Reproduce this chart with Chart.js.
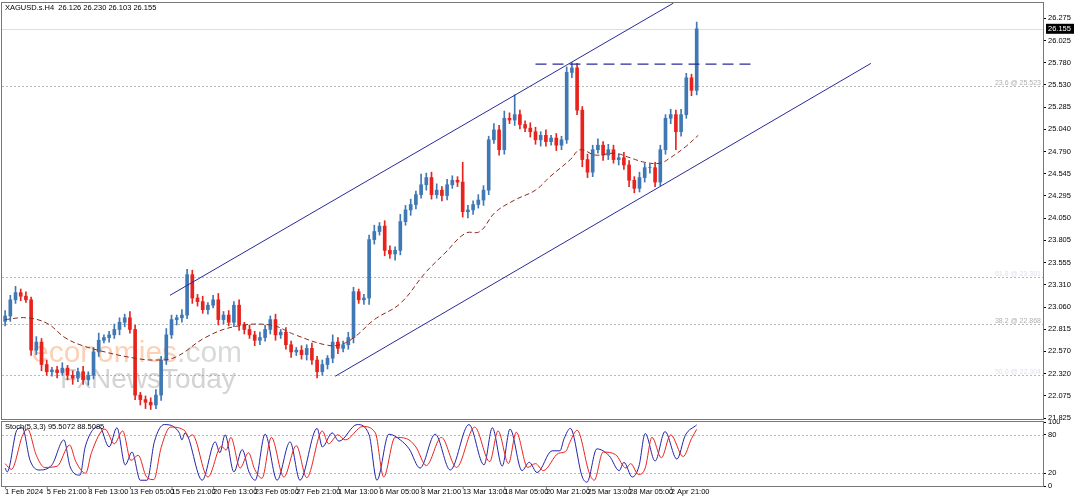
<!DOCTYPE html>
<html><head><meta charset="utf-8">
<script src="https://cdn.jsdelivr.net/npm/chart.js@4"></script>
<style>
html,body{margin:0;padding:0;background:#fff;width:1074px;height:500px;overflow:hidden}
#c1{position:absolute;left:0;top:0}
#c2{position:absolute;left:0;top:420px}
</style></head><body>
<canvas id="c1" width="1074" height="420"></canvas>
<canvas id="c2" width="1074" height="80"></canvas>
<script>
const title = "XAGUSD.s.H4  26.126 26.230 26.103 26.155";
const closes = [22.96,23.14,23.22,23.18,23.14,22.58,22.67,22.42,22.34,22.36,
22.33,22.38,22.30,22.27,22.34,22.25,22.30,22.56,22.69,22.72,
22.75,22.81,22.89,22.94,22.81,22.08,22.03,22.00,21.97,22.08,
22.47,22.75,22.92,22.94,22.97,23.42,23.16,23.12,23.03,23.08,
23.14,22.92,22.97,22.89,23.08,22.86,22.81,22.75,22.69,22.72,
22.81,22.92,22.75,22.78,22.64,22.56,22.58,22.53,22.60,22.47,
22.34,22.42,22.49,22.67,22.60,22.64,22.72,23.23,23.14,23.16,
23.81,23.90,23.96,23.69,23.65,23.69,24.01,24.14,24.20,24.31,
24.42,24.50,24.31,24.36,24.30,24.42,24.47,24.45,24.12,24.14,
24.20,24.25,24.36,24.92,25.03,24.81,25.16,25.14,25.20,25.09,
25.05,25.01,24.92,24.97,24.90,24.94,24.86,24.92,25.67,25.72,
25.25,24.70,24.56,24.81,24.86,24.75,24.81,24.70,24.72,24.64,
24.47,24.38,24.50,24.61,24.61,24.45,24.81,25.16,25.20,25.01,
25.20,25.61,25.47,26.155];
const firstOpen = 22.90;
const wickUp = [.06,.05,.07,.04,.05,.03,.06,.04,.05,.03,.04,.06,.03,.05,.04,.06,.04,.05,.08,.03,
.04,.06,.05,.04,.07,.05,.03,.04,.05,.06,.04,.07,.05,.03,.06,.06,.05,.04,.06,.03,
.05,.07,.04,.05,.04,.06,.03,.05,.04,.06,.05,.04,.06,.03,.05,.04,.03,.05,.04,.06,
.04,.05,.03,.08,.05,.04,.06,.05,.03,.04,.05,.07,.04,.06,.05,.04,.08,.05,.06,.04,
.12,.05,.06,.07,.04,.06,.05,.04,.22,.05,.04,.06,.05,.04,.07,.05,.08,.06,.22,.05,
.04,.06,.05,.04,.06,.03,.05,.04,.06,.06,.05,.04,.06,.05,.07,.04,.06,.05,.04,.06,
.05,.04,.06,.05,.04,.06,.05,.04,.06,.05,.06,.05,.04,.075];
const wickDn = [.05,.06,.04,.05,.03,.06,.05,.07,.04,.05,.06,.03,.05,.07,.04,.05,.06,.04,.05,.03,
.05,.04,.06,.05,.04,.05,.06,.07,.05,.04,.06,.05,.04,.06,.05,.04,.06,.05,.04,.05,
.03,.06,.05,.04,.05,.06,.05,.04,.06,.05,.04,.05,.06,.04,.05,.06,.04,.05,.06,.05,
.07,.04,.05,.05,.06,.04,.05,.06,.04,.05,.07,.05,.04,.06,.05,.07,.05,.04,.06,.05,
.04,.06,.05,.04,.06,.05,.04,.05,.06,.07,.05,.04,.06,.05,.04,.06,.05,.04,.06,.05,
.04,.06,.05,.07,.05,.04,.06,.05,.04,.06,.05,.08,.06,.05,.04,.06,.05,.04,.06,.05,
.07,.05,.04,.05,.06,.05,.04,.05,.06,.20,.05,.04,.06,.05];
const maX = [0,4,8,11.5,14.4,19.2,25,28.8,32.7,38.5,44,51,55.8,61.5,64.4,67.3,71,76,80.8,84.6,88.5,91.3,94.2,98,102,104.8,108.7,110.6,113.5,117.3,120.2,123,126,127.9,130.8,133.3];
const maY = [22.92,22.94,22.88,22.72,22.64,22.56,22.49,22.47,22.50,22.72,22.84,22.86,22.75,22.64,22.64,22.73,22.92,23.10,23.44,23.66,23.88,23.90,24.11,24.25,24.36,24.51,24.70,24.81,24.75,24.77,24.72,24.67,24.66,24.72,24.84,24.97];
const upperChannel = [[31.7,23.19],[128.5,26.44]];
const lowerChannel = [[63.5,22.29],[166.5,25.77]];
const resistance = [[102,25.763],[144,25.763]];
const fibLevels = [25.523, 23.391, 22.868, 22.304];
const fibLabels = ["23.6 @ 25.523","61.8 @ 23.391","38.2 @ 22.868","50.0 @ 22.304"];
const priceTicks = [26.275,26.025,25.780,25.530,25.285,25.040,24.790,24.545,24.295,24.050,23.805,23.555,23.310,23.060,22.815,22.570,22.320,22.075,21.825];
const stochKX = [0,0.4,2.3,3.3,4.8,6.5,9,11.3,12.5,14.4,15.4,18.1,20,21.5,23.1,24.4,26,27.3,28.7,30.6,33.5,34,34.6,37.9,40.4,41.3,42.3,44,45.6,46.9,48.1,50,52.3,54.8,56.7,60,61,62.9,64.2,67.7,70,71.5,73.8,76,77.7,79.8,82.7,85.6,89.2,92.1,93.7,95.6,97.1,99.4,100.8,102.3,105.2,106.7,107.5,108.7,111,111.9,113.8,116.2,118.1,119,120.6,121.9,123.1,125,126.9,129.2,130.8,133];
const stochK = [28,22,88,91,40,25,33,72,30,17,61,93,61,91,33,53,9,9,69,96,83,72,83,9,69,52,80,22,57,22,9,81,9,69,9,90,61,83,70,96,80,9,81,72,58,28,81,25,96,33,91,31,89,24,37,21,55,55,74,90,14,6,58,47,24,37,14,31,82,39,85,42,79,95.5];
const stochDX = [0,1.2,3.4,4.3,6,7.6,10,12.4,13.6,15.5,16.6,19.2,21,22.6,24.2,25.6,27.2,28.6,30,31.8,34.6,35.2,36,39,41.6,42.5,43.4,45.2,46.8,48,49.4,51.2,53.6,56,58,61,62.2,64,65.4,68.8,71.2,72.8,75,77.2,79,81,83.9,86.8,90.3,93.2,94.8,96.8,98.3,100.5,102,103.5,106.4,107.8,108.7,110,112.4,113.3,115,117.4,119.4,120.3,121.8,123.1,124.4,126.2,128,130.4,132,133];
const stochD = [35,26,80,89,48,29,31,64,38,20,52,89,66,86,40,48,14,10,60,92,86,76,80,14,62,56,76,28,52,26,12,76,14,63,13,86,66,80,72,93,83,14,76,74,61,32,76,29,92,38,86,35,84,29,35,24,51,54,70,87,19,9,53,49,28,35,18,28,76,44,80,46,74,88.5];
const timeLabels = ["1 Feb 2024","5 Feb 21:00","8 Feb 13:00","13 Feb 05:00","15 Feb 21:00","20 Feb 13:00","23 Feb 05:00","27 Feb 21:00","1 Mar 13:00","6 Mar 05:00","8 Mar 21:00","13 Mar 13:00","18 Mar 05:00","20 Mar 21:00","25 Mar 13:00","28 Mar 05:00","2 Apr 21:00"];
const labelStep = 8;

const UP = '#3f78b4', DN = '#e8231d';
const F = '"Liberation Sans", "DejaVu Sans", sans-serif';
const bodies = [], wicks = [], cols = [];
closes.forEach((c,i)=>{
  const o = i===0 ? firstOpen : closes[i-1];
  bodies.push({x:i, y:[o,c]});
  wicks.push({x:i, y:[Math.min(o,c)-wickDn[i], Math.max(o,c)+wickUp[i]]});
  cols.push(c>=o?UP:DN);
});
const mkX = () => ({type:'linear', min:-0.6, max:199.6, display:false, offset:false, bounds:'ticks'});
const fitY = s => { s.width = 31; s.paddingTop = 0; s.paddingBottom = 0; };

const mainPlugin = {
  id:'mainDeco',
  beforeDatasetsDraw(ch){
    const {ctx, chartArea:a, scales:{x,y}} = ch;
    ctx.save();
    ctx.setLineDash([2,2]); ctx.strokeStyle='#b8b8b8'; ctx.lineWidth=1;
    fibLevels.forEach((v,k)=>{
      const py=Math.round(y.getPixelForValue(v))+0.5;
      ctx.beginPath(); ctx.moveTo(a.left,py); ctx.lineTo(a.right,py); ctx.stroke();
      ctx.font='7px '+F; ctx.fillStyle = (k%2===0)?'#b0b0b0':'#dde2ee'; ctx.textAlign='right';
      ctx.fillText(fibLabels[k], a.right-2, py-2);
    });
    ctx.setLineDash([]);
    const cp=Math.round(y.getPixelForValue(closes[closes.length-1]))+0.5;
    ctx.strokeStyle='#cfe3ee'; ctx.beginPath(); ctx.moveTo(a.left,cp); ctx.lineTo(a.right,cp); ctx.stroke();
    ctx.font='30px '+F; ctx.textAlign='left'; ctx.textBaseline='alphabetic';
    ctx.fillStyle='rgba(250,170,120,0.55)'; ctx.fillText('economies', 32, 362);
    const w=ctx.measureText('economies').width;
    ctx.fillStyle='rgba(170,170,170,0.45)'; ctx.fillText('.com', 32+w, 362);
    ctx.font='28px '+F; ctx.fillStyle='rgba(160,160,160,0.45)'; ctx.fillText('FxNewsToday', 60, 388);
    ctx.restore();
  },
  afterDatasetsDraw(ch){
    const {ctx, chartArea:a, scales:{x,y}} = ch;
    ctx.save();
    ctx.beginPath(); ctx.rect(a.left,a.top,a.right-a.left,a.bottom-a.top); ctx.clip();
    ctx.strokeStyle='#2a2a9a'; ctx.lineWidth=1;
    [upperChannel, lowerChannel].forEach(l=>{
      ctx.beginPath(); ctx.moveTo(x.getPixelForValue(l[0][0]), y.getPixelForValue(l[0][1]));
      ctx.lineTo(x.getPixelForValue(l[1][0]), y.getPixelForValue(l[1][1])); ctx.stroke();
    });
    ctx.setLineDash([11,6]); ctx.lineWidth=1.3;
    ctx.beginPath(); ctx.moveTo(x.getPixelForValue(resistance[0][0]), y.getPixelForValue(resistance[0][1]));
    ctx.lineTo(x.getPixelForValue(resistance[1][0]), y.getPixelForValue(resistance[1][1])); ctx.stroke();
    ctx.restore();
    ctx.save();
    ctx.strokeStyle='#777'; ctx.lineWidth=1;
    ctx.strokeRect(a.left-0.5,a.top-0.5,a.right-a.left+1,a.bottom-a.top+1);
    ctx.fillStyle='#777'; ctx.fillRect(a.left-1, a.bottom, a.right-a.left+2, 2);
    ctx.font='7.5px '+F; ctx.fillStyle='#000'; ctx.textAlign='left'; ctx.textBaseline='middle';
    ctx.fillText(title, 5, 8);
    const cp=y.getPixelForValue(closes[closes.length-1]);
    ctx.fillStyle='#000'; ctx.fillRect(a.right+3, cp-5, 28, 10);
    ctx.fillStyle='#fff'; ctx.fillText('26.155', a.right+5, cp+0.5);
    ctx.restore();
  }
};

new Chart(document.getElementById('c1'), {
  data:{datasets:[
    {type:'bar', data:wicks, backgroundColor:cols, barThickness:1, grouped:false, order:2},
    {type:'bar', data:bodies, backgroundColor:cols, barThickness:3, grouped:false, order:1},
    {type:'line', data:maX.map((v,i)=>({x:v,y:maY[i]})), borderColor:'#8b2a1a', borderWidth:1, borderDash:[5,3], pointRadius:0, tension:0.4, order:0}
  ]},
  options:{
    animation:false, responsive:false, devicePixelRatio:1,
    layout:{padding:{left:2,top:3,bottom:1,right:0}},
    plugins:{legend:{display:false}, tooltip:{enabled:false}},
    scales:{
      x:mkX(),
      y:{position:'right', min:21.814, max:26.442,
        afterBuildTicks:s=>{s.ticks=priceTicks.map(v=>({value:v}));},
        afterFit:fitY,
        border:{display:false},
        grid:{drawOnChartArea:false, tickLength:3, color:'#000'},
        ticks:{padding:2, color:'#000', font:{size:7.5, family:F}, callback:v=>v.toFixed(3)}}
    }
  },
  plugins:[mainPlugin]
});

const subPlugin = {
  id:'subDeco',
  beforeDatasetsDraw(ch){
    const {ctx, chartArea:a, scales:{y}} = ch;
    ctx.save(); ctx.setLineDash([2,2]); ctx.strokeStyle='#b8b8b8';
    [80,20].forEach(v=>{const py=Math.round(y.getPixelForValue(v))+0.5;
      ctx.beginPath(); ctx.moveTo(a.left,py); ctx.lineTo(a.right,py); ctx.stroke();});
    ctx.restore();
  },
  afterDatasetsDraw(ch){
    const {ctx, chartArea:a, scales:{x}} = ch;
    ctx.save();
    ctx.strokeStyle='#777'; ctx.strokeRect(a.left-0.5,a.top-0.5,a.right-a.left+1,a.bottom-a.top+1);
    ctx.font='7.5px '+F; ctx.fillStyle='#000'; ctx.textBaseline='middle'; ctx.textAlign='left';
    ctx.fillText('Stoch(5,3,3) 95.5072 88.5085', 5, 7);
    timeLabels.forEach((t,k)=>{
      const px=x.getPixelForValue(k*labelStep);
      ctx.fillText(t, Math.max(px,2), 72);
      ctx.beginPath(); ctx.moveTo(px+0.5,a.bottom); ctx.lineTo(px+0.5,a.bottom+3); ctx.stroke();
    });
    ctx.restore();
  }
};

new Chart(document.getElementById('c2'), {
  type:'line',
  data:{datasets:[
    {data:stochDX.map((v,i)=>({x:v,y:stochD[i]})), borderColor:'#e8231d', borderWidth:1, pointRadius:0, cubicInterpolationMode:'monotone'},
    {data:stochKX.map((v,i)=>({x:v,y:stochK[i]})), borderColor:'#2323a8', borderWidth:1, pointRadius:0, cubicInterpolationMode:'monotone'}
  ]},
  options:{
    animation:false, responsive:false, devicePixelRatio:1,
    layout:{padding:{left:2,top:2,bottom:14,right:0}},
    plugins:{legend:{display:false}, tooltip:{enabled:false}},
    scales:{
      x:mkX(),
      y:{position:'right', min:0, max:100,
        afterBuildTicks:s=>{s.ticks=[100,80,20,0].map(v=>({value:v}));},
        afterFit:fitY,
        border:{display:false},
        grid:{drawOnChartArea:false, tickLength:3, color:'#000'},
        ticks:{padding:2, color:'#000', font:{size:7.5, family:F}}}
    }
  },
  plugins:[subPlugin]
});
</script></body></html>
